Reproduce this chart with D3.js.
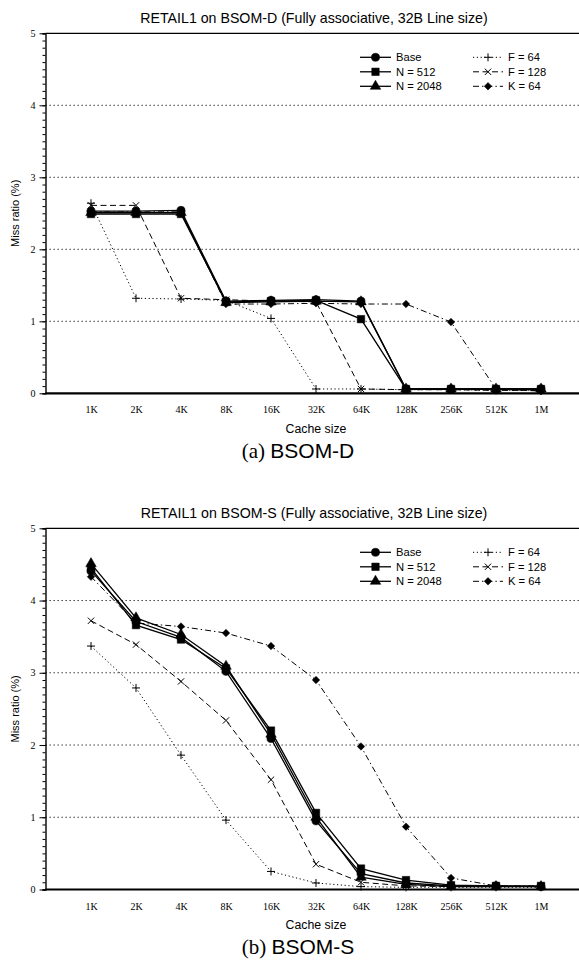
<!DOCTYPE html>
<html>
<head>
<meta charset="utf-8">
<script src="https://cdn.jsdelivr.net/npm/d3@7"></script>
<style>
  html, body { margin: 0; padding: 0; background: #fff; }
  svg { display: block; }
  .sans { font-family: "Liberation Sans", Arial, sans-serif; }
  .serif { font-family: "Liberation Serif", "Times New Roman", serif; }
</style>
</head>
<body>
<script>
// Cache sizes along the x axis (categorical, evenly spaced).
const sizes = ["1K", "2K", "4K", "8K", "16K", "32K", "64K", "128K", "256K", "512K", "1M"];
const yTicks = [0, 1, 2, 3, 4, 5];
const seriesNames = ["Base", "N = 512", "N = 2048", "F = 64", "F = 128", "K = 64"];

// (a) BSOM-D miss ratios (%)
const dBase  = [2.53, 2.53, 2.54, 1.28, 1.29, 1.30, 1.28, 0.06, 0.06, 0.06, 0.06];
const dN512  = [2.49, 2.49, 2.49, 1.27, 1.28, 1.29, 1.03, 0.06, 0.06, 0.06, 0.06];
const dN2048 = [2.51, 2.51, 2.51, 1.26, 1.27, 1.28, 1.27, 0.06, 0.06, 0.06, 0.06];
const dF64   = [2.64, 1.32, 1.31, 1.29, 1.04, 0.06, 0.06, 0.05, 0.05, 0.04, 0.04];
const dF128  = [2.61, 2.61, 1.32, 1.30, 1.28, 1.27, 0.06, 0.05, 0.05, 0.04, 0.04];
const dK64   = [2.52, 2.52, 2.52, 1.24, 1.24, 1.25, 1.24, 1.24, 0.99, 0.06, 0.03];

// (b) BSOM-S miss ratios (%)
const sBase  = [4.41, 3.71, 3.49, 3.02, 2.09, 0.95, 0.22, 0.09, 0.05, 0.05, 0.04];
const sN512  = [4.45, 3.66, 3.46, 3.06, 2.20, 1.06, 0.29, 0.13, 0.06, 0.05, 0.05];
const sN2048 = [4.51, 3.76, 3.53, 3.09, 2.15, 1.00, 0.17, 0.07, 0.04, 0.04, 0.04];
const sF64   = [3.37, 2.79, 1.86, 0.96, 0.25, 0.09, 0.04, 0.03, 0.03, 0.03, 0.03];
const sF128  = [3.72, 3.39, 2.88, 2.34, 1.52, 0.35, 0.10, 0.05, 0.04, 0.04, 0.04];
const sK64   = [4.33, 3.69, 3.64, 3.55, 3.37, 2.90, 1.98, 0.87, 0.16, 0.05, 0.05];

// thin stroked symbols for + and x
const plusSym = { draw(ctx, size) { const r = Math.sqrt(size) / 2;
  ctx.moveTo(-r, 0); ctx.lineTo(r, 0); ctx.moveTo(0, -r); ctx.lineTo(0, r); } };
const crossSym = { draw(ctx, size) { const r = Math.sqrt(size) / 2;
  ctx.moveTo(-r, -r); ctx.lineTo(r, r); ctx.moveTo(-r, r); ctx.lineTo(r, -r); } };

const styles = [
  { dash: null,            sym: d3.symbolCircle,   size: 52, fill: true,  rot: 0 },
  { dash: null,            sym: d3.symbolSquare,   size: 56, fill: true,  rot: 0 },
  { dash: null,            sym: d3.symbolTriangle, size: 48, fill: true,  rot: 0 },
  { dash: "1.2,2.6",       sym: plusSym,           size: 64, fill: false, rot: 0 },
  { dash: "6,3.5",         sym: crossSym,          size: 40, fill: false, rot: 0 },
  { dash: "6,3,1.4,3",     sym: d3.symbolSquare,   size: 28, fill: true,  rot: 45 },
];

const W = 579, H = 960;
const svg = d3.select("body").append("svg").attr("width", W).attr("height", H);

function drawChart(top, zero, title, capLetter, capName, seriesData) {
  const g = svg.append("g");
  const x = d3.scaleLinear([0, 12], [46, 586]);
  const y = d3.scaleLinear([0, 5], [zero, top]);
  const axisX = 45.5;

  // gridlines (dotted)
  g.append("g").selectAll("line").data(yTicks.filter(t => t > 0 && t < 5)).join("line")
    .attr("x1", axisX).attr("x2", 586).attr("y1", d => y(d)).attr("y2", d => y(d))
    .attr("stroke", "#222").attr("stroke-width", 1).attr("stroke-dasharray", "1.3,2.7");

  // top frame line
  g.append("line").attr("x1", axisX).attr("x2", 586).attr("y1", y(5)).attr("y2", y(5))
    .attr("stroke", "#000").attr("stroke-width", 1.2);

  // left axis with minor ticks
  const ax = g.append("g").attr("transform", `translate(${axisX},0)`)
    .call(d3.axisLeft(y).tickValues(d3.range(0, 5.001, 0.1)).tickSize(3).tickFormat(""));
  ax.select(".domain").attr("stroke-width", 1.4);
  ax.selectAll(".tick line").attr("stroke-width", 1);
  const axM = g.append("g").attr("transform", `translate(${axisX},0)`)
    .call(d3.axisLeft(y).tickValues(yTicks).tickSize(6).tickPadding(4).tickFormat(d3.format("d")));
  axM.select(".domain").remove();
  axM.selectAll("text").attr("class", "serif").style("font-size", "10px").attr("fill", "#000");

  // x labels (no tick marks)
  const axX = g.append("g").attr("transform", `translate(0,${zero})`)
    .call(d3.axisBottom(x).tickValues(d3.range(1, 12)).tickSize(0).tickPadding(13)
      .tickFormat(i => sizes[i - 1]));
  axX.select(".domain").remove();
  axX.selectAll("text").attr("class", "serif").style("font-size", "10px").attr("fill", "#000");

  // series (dashed first, solid on top)
  const order = [5, 4, 3, 2, 1, 0];
  const line = d3.line().x((v, i) => x(i + 1)).y(v => y(v));
  for (const k of order) {
    const st = styles[k], vals = seriesData[k];
    g.append("path").datum(vals).attr("d", line).attr("fill", "none")
      .attr("stroke", "#000").attr("stroke-width", st.dash ? 1 : 1.3)
      .attr("stroke-dasharray", st.dash);
    g.append("g").selectAll("path").data(vals).join("path")
      .attr("d", d3.symbol(st.sym, st.size))
      .attr("transform", (v, i) => `translate(${x(i + 1)},${y(v)}) rotate(${st.rot})`)
      .attr("fill", st.fill ? "#000" : "none").attr("stroke", "#000")
      .attr("stroke-width", st.fill ? 0.5 : 1);
  }

  // bottom axis line (thick)
  g.append("line").attr("x1", axisX).attr("x2", 586).attr("y1", zero).attr("y2", zero)
    .attr("stroke", "#000").attr("stroke-width", 2.2);

  // legend
  const cols = [{ x0: 360, x1: 391, tx: 396 }, { x0: 473, x1: 503, tx: 508 }];
  seriesNames.forEach((name, k) => {
    const c = cols[Math.floor(k / 3)], ly = top + 24 + (k % 3) * 14.5;
    const st = styles[k];
    g.append("line").attr("x1", c.x0).attr("x2", c.x1).attr("y1", ly).attr("y2", ly)
      .attr("stroke", "#000").attr("stroke-width", st.dash ? 1 : 1.3).attr("stroke-dasharray", st.dash);
    g.append("path").attr("d", d3.symbol(st.sym, st.size))
      .attr("transform", `translate(${(c.x0 + c.x1) / 2},${ly}) rotate(${st.rot})`)
      .attr("fill", st.fill ? "#000" : "none").attr("stroke", "#000")
      .attr("stroke-width", st.fill ? 0.5 : 1);
    g.append("text").attr("class", "sans").attr("x", c.tx).attr("y", ly).attr("dy", "0.36em")
      .style("font-size", "11.2px").text(name);
  });

  // titles
  g.append("text").attr("class", "sans").attr("x", 314).attr("y", top - 15).attr("dy", "0.35em")
    .attr("text-anchor", "middle").style("font-size", "14.2px").text(title);
  g.append("text").attr("class", "sans").attr("transform", `translate(15,${(top + zero) / 2}) rotate(-90)`)
    .attr("text-anchor", "middle").attr("dy", "0.35em").style("font-size", "11px").text("Miss ratio (%)");
  g.append("text").attr("class", "sans").attr("x", 316).attr("y", zero + 35).attr("dy", "0.35em")
    .attr("text-anchor", "middle").style("font-size", "12.3px").text("Cache size");
  const cap = g.append("text").attr("x", 298).attr("y", zero + 57).attr("dy", "0.35em")
    .attr("text-anchor", "middle").style("font-size", "21px");
  cap.append("tspan").attr("class", "serif").text(capLetter + " ");
  cap.append("tspan").attr("class", "sans").text(capName);
}

drawChart(33.3, 393.3, "RETAIL1 on BSOM-D (Fully associative, 32B Line size)", "(a)", "BSOM-D",
  [dBase, dN512, dN2048, dF64, dF128, dK64]);
drawChart(528.3, 889.5, "RETAIL1 on BSOM-S (Fully associative, 32B Line size)", "(b)", "BSOM-S",
  [sBase, sN512, sN2048, sF64, sF128, sK64]);
</script>
</body>
</html>
